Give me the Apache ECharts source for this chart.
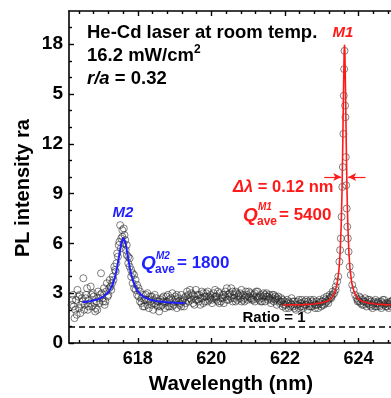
<!DOCTYPE html>
<html>
<head>
<meta charset="utf-8">
<script src="https://cdn.jsdelivr.net/npm/echarts@6/dist/echarts.min.js"></script>
<style>
html,body{margin:0;padding:0;background:#fff;}
#chart{width:391px;height:398px;}
</style>
</head>
<body>
<div id="chart"></div>
<script>
// ---- data ----
const xMajorTicks = [618, 620, 622, 624];
const xMinorTicks = [616.4, 616.8, 617.2, 617.6, 618.4, 618.8, 619.2, 619.6, 620.4, 620.8, 621.2, 621.6, 622.4, 622.8, 623.2, 623.6, 624.4, 624.8];
const yMajorTicks = [0, 3, 6, 9, 12, 15, 18];
const yTickLabels = ['0', '3', '6', '9', '12', '5', '18'];
const yMinorTicks = [1, 2, 4, 5, 7, 8, 10, 11, 13, 14, 16, 17, 19];
const ratioLevel = 1;

const scanA = [
[616.20,2.3],[616.24,2.9],[616.28,1.5],[616.32,2.6],[616.36,3.2],[616.40,2.1],[616.44,1.8],[616.48,2.7],
[616.52,3.9],[616.56,2.3],[616.60,2.9],[616.64,2.0],[616.68,2.6],[616.72,3.4],[616.76,2.2],[616.80,2.8],
[616.84,1.9],[616.88,2.5],[616.92,3.1],[616.96,2.4],[617.00,4.2],[617.04,2.7],[617.08,3.3],[617.12,2.5],
[617.16,3.6],[617.20,2.9],[617.24,3.8],[617.28,3.2],[617.32,4.0],[617.36,4.6],[617.40,4.3],[617.44,5.4],
[617.48,5.9],[617.52,7.1],[617.55,6.3],[617.58,6.8],[617.61,6.0],[617.64,6.5],[617.67,5.6],[617.70,5.9],
[617.74,4.8],[617.78,5.1],[617.82,4.0],[617.86,3.6],[617.90,4.1],[617.94,3.2],[617.98,3.5],[618.02,2.8],
[618.06,3.1],[618.10,2.4],[618.14,2.9],[618.18,2.2],[618.22,2.6],[618.26,3.0],[618.30,2.1],[618.34,2.5],
[618.38,2.8],[618.42,2.0],[618.46,2.4],[618.50,2.7],[618.54,2.2],[618.58,1.9],[618.62,2.6],[618.66,2.3],
[618.70,2.8],[618.74,2.1],[618.78,2.5],[618.82,2.9],[618.86,2.2],[618.90,2.4],[618.94,3.0],[618.98,2.3],
[619.02,2.6],[619.06,2.1],[619.10,2.7],[619.14,2.4],[619.18,2.9],[619.22,2.5],[619.26,2.2],[619.30,2.8],
[619.34,3.1],[619.38,2.5],[619.42,2.7],[619.46,3.0],[619.50,2.4],[619.54,2.8],[619.58,3.2],[619.62,2.6],
[619.66,2.9],[619.70,2.3],[619.74,2.7],[619.78,3.0],[619.82,2.5],[619.86,2.8],[619.90,3.1],[619.94,2.6],
[619.98,2.9],[620.02,2.4],[620.06,2.7],[620.10,3.2],[620.14,2.8],[620.18,2.5],[620.22,3.0],[620.26,2.7],
[620.30,2.9],[620.34,2.4],[620.38,2.8],[620.42,3.3],[620.46,2.6],[620.50,3.0],[620.54,2.7],[620.58,2.5],
[620.62,2.9],[620.66,3.1],[620.70,2.6],[620.74,2.8],[620.78,3.0],[620.82,2.5],[620.86,2.9],[620.90,2.7],
[620.94,3.1],[620.98,2.6],[621.02,2.8],[621.06,3.0],[621.10,2.7],[621.14,2.9],[621.18,2.5],[621.22,2.8],
[621.26,3.1],[621.30,2.6],[621.34,2.9],[621.38,2.7],[621.42,3.0],[621.46,2.5],[621.50,2.8],[621.54,2.6],
[621.58,2.9],[621.62,2.4],[621.66,2.7],[621.70,2.5],[621.74,2.8],[621.78,2.3],[621.82,2.6],[621.86,2.4],
[621.90,2.7],[621.94,2.2],[621.98,2.5],[622.02,2.3],[622.06,2.6],[622.10,2.1],[622.14,2.4],[622.18,2.7],
[622.22,2.2],[622.26,2.5],[622.30,2.0],[622.34,2.3],[622.38,2.6],[622.42,2.2],[622.46,2.4],[622.50,2.1],
[622.54,2.5],[622.58,2.3],[622.62,2.0],[622.66,2.4],[622.70,2.6],[622.74,2.2],[622.78,2.4],[622.82,2.1],
[622.86,2.5],[622.90,2.3],[622.94,2.6],[622.98,2.2],[623.02,2.5],[623.06,2.7],[623.10,2.4],[623.14,2.8],
[623.18,2.6],[623.22,2.9],[623.26,2.7],[623.30,3.1],[623.34,3.0],[623.38,3.4],[623.42,3.7],[623.45,4.0],
[623.48,4.9],[623.50,5.6],[623.52,6.3],[623.54,7.6],[623.56,9.4],[623.575,10.6],[623.59,12.6],[623.60,14.9],
[623.61,16.5],[623.62,17.6],[623.635,14.3],[623.645,13.6],[623.655,11.2],[623.665,9.5],[623.68,8.1],[623.695,7.0],
[623.71,6.3],[623.73,5.5],[623.76,4.6],[623.79,4.1],[623.83,3.5],[623.87,3.2],[623.91,2.9],[623.95,2.7],
[623.98,2.6],[624.02,2.8],[624.06,2.4],[624.10,2.6],[624.14,2.3],[624.18,2.5],[624.22,2.2],[624.26,2.6],
[624.30,2.3],[624.34,2.5],[624.38,2.1],[624.42,2.4],[624.46,2.6],[624.50,2.2],[624.54,2.5],[624.58,2.3],
[624.62,2.1],[624.66,2.4],[624.70,2.6],[624.74,2.2],[624.78,2.4],[624.82,2.3],[624.86,2.5],[624.90,2.2],
[624.94,2.4],[624.98,2.3],[625.02,2.5],[625.06,2.2],[625.10,2.4],[625.14,2.3]
];

const scanB = [
[616.22,2.6],[616.30,2.0],[616.38,2.8],[616.46,2.3],[616.54,2.0],[616.62,3.3],[616.70,2.4],[616.78,3.0],
[616.86,2.1],[616.94,2.7],[617.02,3.0],[617.10,2.3],[617.18,2.8],[617.26,3.4],[617.34,3.8],[617.42,4.8],
[617.50,6.1],[617.58,6.4],[617.66,6.2],[617.74,5.2],[617.82,4.4],[617.90,3.3],[617.98,2.9],[618.06,2.5],
[618.14,2.2],[618.22,2.9],[618.30,2.6],[618.38,2.3],[618.46,2.9],[618.54,2.5],[618.62,2.2],[618.70,2.5],
[618.78,2.8],[618.86,2.6],[618.94,2.2],[619.02,2.8],[619.10,2.5],[619.18,2.2],[619.26,2.7],[619.34,2.6],
[619.42,3.2],[619.50,2.9],[619.58,2.6],[619.66,2.5],[619.74,3.1],[619.82,2.8],[619.90,2.5],[619.98,2.7],
[620.06,3.0],[620.14,2.6],[620.22,2.4],[620.30,2.7],[620.38,3.1],[620.46,2.9],[620.54,3.3],[620.62,2.7],
[620.70,3.0],[620.78,2.7],[620.86,2.6],[620.94,2.8],[621.02,3.1],[621.10,2.6],[621.18,3.0],[621.26,2.7],
[621.34,2.5],[621.42,2.8],[621.50,3.0],[621.58,2.7],[621.66,2.9],[621.74,2.6],[621.82,2.8],[621.90,2.5],
[621.98,2.3],[622.06,2.4],[622.14,2.2],[622.22,2.5],[622.30,2.3],[622.38,2.1],[622.46,2.6],[622.54,2.3],
[622.62,2.5],[622.70,2.2],[622.78,2.6],[622.86,2.3],[622.94,2.4],[623.02,2.3],[623.10,2.6],[623.18,2.4],
[623.26,2.8],[623.98,2.5],[624.06,2.7],[624.14,2.5],[624.22,2.4],[624.30,2.6],[624.38,2.3],[624.46,2.2],
[624.54,2.4],[624.62,2.5],[624.70,2.3],[624.78,2.2],[624.86,2.4],[624.94,2.6],[625.02,2.3],[625.10,2.4]
];

const scanC = [
[616.26,2.2],[616.34,1.7],[616.42,2.9],[616.50,2.5],[616.58,2.7],[616.66,2.2],[616.74,2.9],[616.82,2.4],
[616.90,2.0],[616.98,2.9],[617.06,2.5],[617.14,3.1],[617.22,3.3],[617.30,3.6],[617.38,4.4],[617.46,5.2],
[617.54,5.7],[617.62,6.9],[617.70,5.3],[617.78,4.6],[617.86,4.2],[617.94,3.8],[618.02,3.3],[618.10,2.7],
[618.18,2.6],[618.26,2.3],[618.34,2.8],[618.42,2.6],[618.50,2.3],[618.58,2.5],[618.66,2.7],[618.74,2.4],
[618.82,2.2],[618.90,2.7],[618.98,2.5],[619.06,2.9],[619.14,2.3],[619.22,2.6],[619.30,2.4],[619.38,2.9],
[619.46,2.6],[619.54,2.3],[619.62,2.9],[619.70,2.7],[619.78,2.4],[619.86,3.0],[619.94,2.8],[620.02,2.6],
[620.10,2.8],[620.18,3.1],[620.26,2.5],[620.34,2.9],[620.42,2.6],[620.50,2.8],[620.58,3.1],[620.66,2.5],
[620.74,2.9],[620.82,3.2],[620.90,2.5],[620.98,2.9],[621.06,2.7],[621.14,2.6],[621.22,3.1],[621.30,2.8],
[621.38,2.5],[621.46,2.9],[621.54,2.8],[621.62,2.6],[621.70,2.9],[621.78,2.7],[621.86,2.5],[621.94,2.6],
[622.02,2.1],[622.10,2.5],[622.18,2.3],[622.26,2.1],[622.34,2.5],[622.42,2.4],[622.50,2.2],[622.58,2.6],
[622.66,2.2],[622.74,2.5],[622.82,2.3],[622.90,2.1],[622.98,2.5],[623.06,2.3],[623.14,2.5],[623.22,2.7],
[623.30,2.9],[623.38,3.2],[624.02,2.5],[624.10,2.3],[624.18,2.7],[624.26,2.4],[624.34,2.2],[624.42,2.5],
[624.50,2.4],[624.58,2.2],[624.66,2.6],[624.74,2.4],[624.82,2.1],[624.90,2.5],[624.98,2.2],[625.06,2.5],[625.14,2.3]
];

const fitM2 = [
[616.50,2.46],[616.70,2.52],[616.90,2.62],[617.05,2.76],[617.20,3.05],[617.30,3.44],[617.38,3.97],[617.44,4.57],
[617.50,5.35],[617.55,5.99],[617.61,6.35],[617.67,5.99],[617.72,5.35],[617.78,4.57],[617.84,3.97],[617.92,3.44],
[618.02,3.05],[618.17,2.76],[618.32,2.62],[618.52,2.52],[618.80,2.45],[619.05,2.42],[619.28,2.40]
];

const fitM1 = [
[621.94,2.29],[622.20,2.30],[622.50,2.31],[622.80,2.35],[623.00,2.42],[623.15,2.52],[623.25,2.67],[623.35,3.01],
[623.42,3.57],[623.47,4.44],[623.50,5.41],[623.53,7.10],[623.55,8.92],[623.57,11.54],[623.59,14.83],[623.61,17.55],
[623.62,17.97],[623.63,17.55],[623.65,14.83],[623.67,11.54],[623.69,8.92],[623.71,7.10],[623.74,5.41],[623.77,4.44],
[623.82,3.57],[623.89,3.01],[623.99,2.67],[624.09,2.52],[624.24,2.42],[624.44,2.35],[624.74,2.31],[625.04,2.30],[625.21,2.29]
];

const fwhmLevel = 10;
const fwhmArrowLeft = [623.07, 623.53];
const fwhmArrowRight = [624.19, 623.72];

// ---- chart ----
const FONT = '"Liberation Sans", Arial, Helvetica, sans-serif';
const xMin = 616.13, xMax = 625.21;
const axisColor = '#000';

function xAxisDef(pos, ticks, len, showLine, showLabel) {
  return {
    type: 'value', position: pos, min: xMin, max: xMax,
    axisLine: {show: showLine, onZero: false, lineStyle: {color: axisColor, width: 1.6}},
    axisTick: {show: true, inside: true, length: len, customValues: ticks, lineStyle: {color: axisColor, width: 1.4}},
    axisLabel: showLabel ? {show: true, customValues: ticks, margin: 7, color: '#000', fontWeight: 'bold', fontSize: 18, fontFamily: FONT} : {show: false},
    splitLine: {show: false}
  };
}
function yAxisDef(ticks, len, showLine, showLabel) {
  return {
    type: 'value', position: 'left', min: 0, max: 20,
    axisLine: {show: showLine, onZero: false, lineStyle: {color: axisColor, width: 1.6}},
    axisTick: {show: true, inside: true, length: len, customValues: ticks, lineStyle: {color: axisColor, width: 1.4}},
    axisLabel: showLabel ? {
      show: true, customValues: ticks, margin: 6, color: '#000', fontWeight: 'bold', fontSize: 19, fontFamily: FONT,
      formatter: function (v) { const i = yMajorTicks.indexOf(v); return i >= 0 ? yTickLabels[i] : ''; }
    } : {show: false},
    splitLine: {show: false}
  };
}

const scatterStyle = {color: 'rgba(0,0,0,0)', borderColor: 'rgba(35,35,35,0.8)', borderWidth: 0.9};

const chart = echarts.init(document.getElementById('chart'), null, {renderer: 'canvas'});
chart.setOption({
  animation: false,
  backgroundColor: '#fff',
  grid: {left: 69, right: -12, top: 11, bottom: 55, containLabel: false, outerBoundsMode: 'none'},
  xAxis: [
    xAxisDef('bottom', xMajorTicks, 5, true, true),
    xAxisDef('bottom', xMinorTicks, 3, false, false),
    xAxisDef('top', xMajorTicks, 5, true, false),
    xAxisDef('top', xMinorTicks, 3, false, false)
  ],
  yAxis: [
    yAxisDef(yMajorTicks, 5, true, true),
    yAxisDef(yMinorTicks, 3, false, false)
  ],
  series: [
    {
      type: 'scatter', data: scanA, symbol: 'circle', symbolSize: 7, itemStyle: scatterStyle, z: 2,
      markLine: {
        silent: true, symbol: ['none', 'none'], label: {show: false},
        lineStyle: {color: '#000', width: 1.5, type: [6, 4]},
        data: [{yAxis: ratioLevel}]
      }
    },
    {type: 'scatter', data: scanB, symbol: 'circle', symbolSize: 7, itemStyle: scatterStyle, z: 2},
    {type: 'scatter', data: scanC, symbol: 'circle', symbolSize: 7, itemStyle: scatterStyle, z: 2},
    {type: 'line', data: fitM2, showSymbol: false, symbol: 'none', lineStyle: {color: '#1f1fff', width: 2}, z: 3},
    {
      type: 'line', data: fitM1, showSymbol: false, symbol: 'none', lineStyle: {color: '#ff1a1a', width: 1.6}, z: 3,
      markLine: {
        silent: true, symbol: ['none', 'arrow'], symbolSize: [6, 8], label: {show: false},
        lineStyle: {color: '#ff1a1a', width: 1.2, type: 'solid'},
        data: [
          [{coord: [fwhmArrowLeft[0], fwhmLevel]}, {coord: [fwhmArrowLeft[1], fwhmLevel]}],
          [{coord: [fwhmArrowRight[0], fwhmLevel]}, {coord: [fwhmArrowRight[1], fwhmLevel]}]
        ]
      }
    }
  ],
  graphic: [
    {type: 'text', x: 87, y: 33, z: 100, style: {text: 'He-Cd laser at room temp.', font: 'bold 18.5px ' + FONT, fill: '#000', align: 'left', verticalAlign: 'middle'}},
    {type: 'text', x: 87, y: 56, z: 100, style: {text: '16.2 mW/cm', font: 'bold 18.5px ' + FONT, fill: '#000', align: 'left', verticalAlign: 'middle'}},
    {type: 'text', x: 194, y: 50, z: 100, style: {text: '2', font: 'bold 12px ' + FONT, fill: '#000', align: 'left', verticalAlign: 'middle'}},
    {type: 'text', x: 87, y: 79, z: 100, style: {text: '{i|r/a} = 0.32', font: 'bold 18.5px ' + FONT, fill: '#000', align: 'left', verticalAlign: 'middle',
      rich: {i: {fontStyle: 'italic', fontWeight: 'bold', fontSize: 18.5, fontFamily: FONT}}}},
    {type: 'text', x: 343, y: 33, z: 100, style: {text: 'M1', font: 'italic bold 15px ' + FONT, fill: '#ff1a1a', align: 'center', verticalAlign: 'middle'}},
    {type: 'text', x: 123, y: 213, z: 100, style: {text: 'M2', font: 'italic bold 15px ' + FONT, fill: '#1f1fff', align: 'center', verticalAlign: 'middle'}},
    {type: 'text', x: 141, y: 264, z: 100, style: {text: 'Q', font: 'italic bold 19px ' + FONT, fill: '#1f1fff', align: 'left', verticalAlign: 'middle'}},
    {type: 'text', x: 156, y: 256, z: 100, style: {text: 'M2', font: 'italic bold 10px ' + FONT, fill: '#1f1fff', align: 'left', verticalAlign: 'middle'}},
    {type: 'text', x: 155, y: 270, z: 100, style: {text: 'ave', font: 'bold 12px ' + FONT, fill: '#1f1fff', align: 'left', verticalAlign: 'middle'}},
    {type: 'text', x: 177, y: 263, z: 100, style: {text: '= 1800', font: 'bold 17px ' + FONT, fill: '#1f1fff', align: 'left', verticalAlign: 'middle'}},
    {type: 'text', x: 233, y: 187, z: 100, style: {text: '{i|\u0394\u03bb} = 0.12 nm', font: 'bold 16.5px ' + FONT, fill: '#ff1a1a', align: 'left', verticalAlign: 'middle',
      rich: {i: {fontStyle: 'italic', fontWeight: 'bold', fontSize: 16.5, fontFamily: FONT}}}},
    {type: 'text', x: 243, y: 216, z: 100, style: {text: 'Q', font: 'italic bold 19px ' + FONT, fill: '#ff1a1a', align: 'left', verticalAlign: 'middle'}},
    {type: 'text', x: 258, y: 207, z: 100, style: {text: 'M1', font: 'italic bold 10px ' + FONT, fill: '#ff1a1a', align: 'left', verticalAlign: 'middle'}},
    {type: 'text', x: 257, y: 222, z: 100, style: {text: 'ave', font: 'bold 12px ' + FONT, fill: '#ff1a1a', align: 'left', verticalAlign: 'middle'}},
    {type: 'text', x: 279, y: 215, z: 100, style: {text: '= 5400', font: 'bold 17px ' + FONT, fill: '#ff1a1a', align: 'left', verticalAlign: 'middle'}},
    {type: 'text', x: 274, y: 318, z: 100, style: {text: 'Ratio = 1', font: 'bold 15px ' + FONT, fill: '#000', align: 'center', verticalAlign: 'middle'}},
    {type: 'text', x: 231, y: 384, z: 100, style: {text: 'Wavelength (nm)', font: 'bold 20.5px ' + FONT, fill: '#000', align: 'center', verticalAlign: 'middle'}},
    {type: 'text', x: 23, y: 257, rotation: Math.PI / 2, z: 100, style: {text: 'PL intensity ra', font: 'bold 20px ' + FONT, fill: '#000', align: 'left', verticalAlign: 'middle'}}
  ]
});
</script>
</body>
</html>
